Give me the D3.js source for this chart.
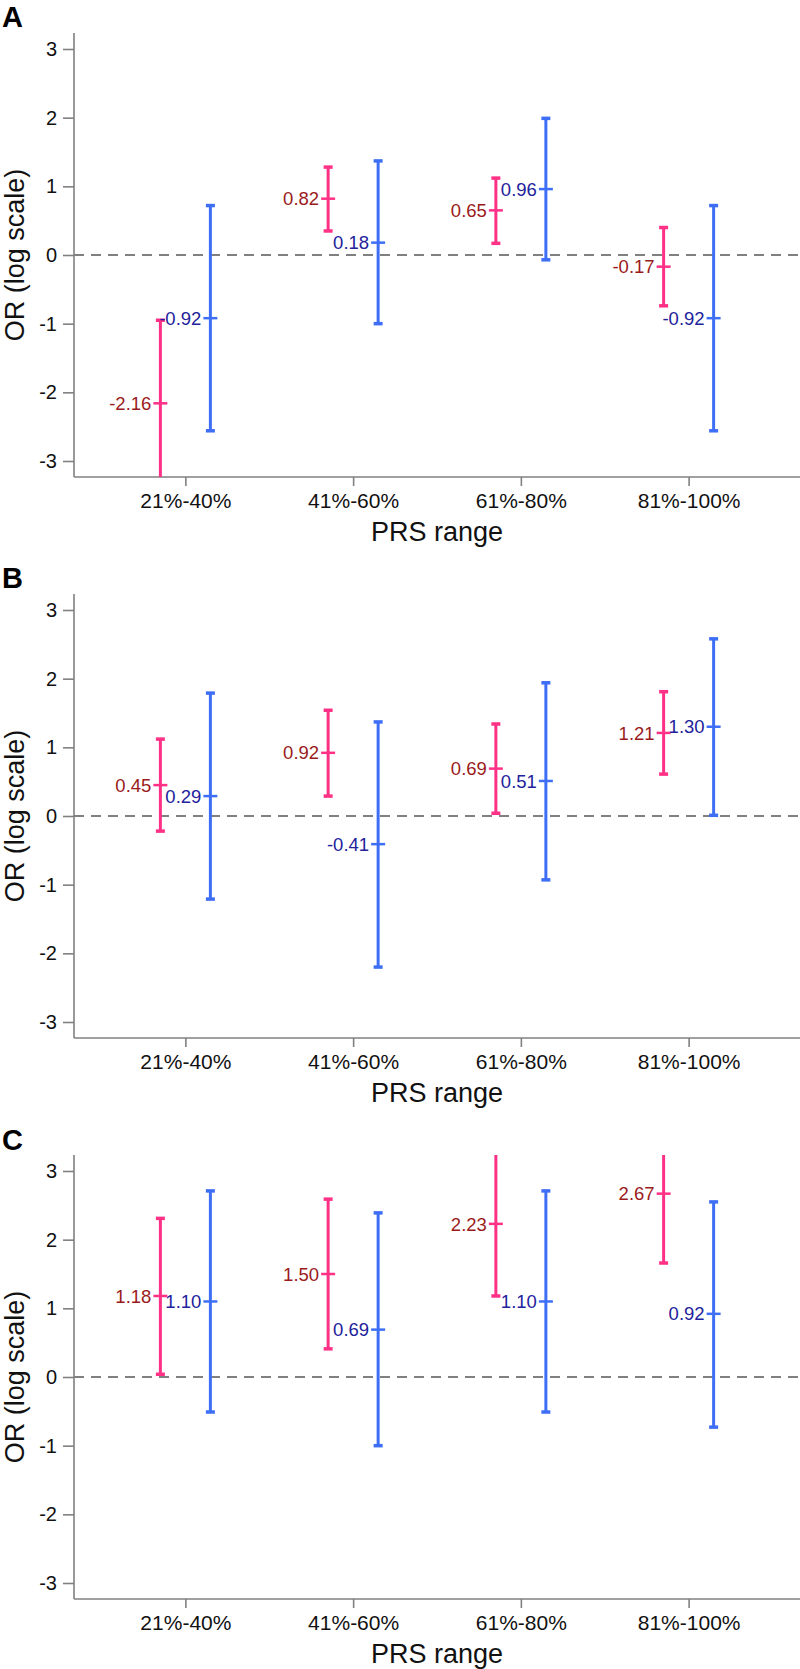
<!DOCTYPE html>
<html>
<head>
<meta charset="utf-8">
<script src="https://cdn.jsdelivr.net/npm/d3@7"></script>
<style>
  html, body { margin: 0; padding: 0; background: #fff; }
  svg { display: block; }
  text { font-family: "Liberation Sans", Arial, sans-serif; }
</style>
</head>
<body>
<div id="chart"></div>
<script>
// ---------------- DATA ----------------
const categories = ["21%-40%", "41%-60%", "61%-80%", "81%-100%"];
const panelLabels = ["A", "B", "C"];
const yTicks = [-3, -2, -1, 0, 1, 2, 3];
const yTitle = "OR (log scale)";
const xTitle = "PRS range";

// Panel A
const aPinkEst = [-2.16, 0.82, 0.65, -0.17];
const aPinkLow = [-3.60, 0.35, 0.17, -0.74];
const aPinkHigh = [-0.95, 1.28, 1.12, 0.40];
const aBlueEst = [-0.92, 0.18, 0.96, -0.92];
const aBlueLow = [-2.56, -1.00, -0.07, -2.56];
const aBlueHigh = [0.72, 1.37, 1.99, 0.72];

// Panel B
const bPinkEst = [0.45, 0.92, 0.69, 1.21];
const bPinkLow = [-0.22, 0.29, 0.04, 0.61];
const bPinkHigh = [1.12, 1.54, 1.34, 1.81];
const bBlueEst = [0.29, -0.41, 0.51, 1.30];
const bBlueLow = [-1.21, -2.20, -0.93, 0.01];
const bBlueHigh = [1.79, 1.37, 1.94, 2.58];

// Panel C
const cPinkEst = [1.18, 1.50, 2.23, 2.67];
const cPinkLow = [0.04, 0.41, 1.18, 1.66];
const cPinkHigh = [2.31, 2.59, 3.60, 3.90];
const cBlueEst = [1.10, 0.69, 1.10, 0.92];
const cBlueLow = [-0.51, -1.00, -0.51, -0.73];
const cBlueHigh = [2.71, 2.39, 2.71, 2.55];

const panels = [
  { label: panelLabels[0], pink: [aPinkEst, aPinkLow, aPinkHigh], blue: [aBlueEst, aBlueLow, aBlueHigh] },
  { label: panelLabels[1], pink: [bPinkEst, bPinkLow, bPinkHigh], blue: [bBlueEst, bBlueLow, bBlueHigh] },
  { label: panelLabels[2], pink: [cPinkEst, cPinkLow, cPinkHigh], blue: [cBlueEst, cBlueLow, cBlueHigh] }
];

// ---------------- LAYOUT ----------------
const W = 800, H = 1669;
const panelStep = 561;
const plotLeft = 74, plotRight = 800, plotTop = 33, plotBottom = 477;
const yDomain = [-3.233, 3.233];

const colors = {
  pink: "#FF3187", blue: "#3E6EF5",
  pinkText: "#9A1B1B", blueText: "#22229C",
  axis: "#808080", text: "#111"
};

const svg = d3.select("#chart").append("svg")
  .attr("width", W).attr("height", H);

const x = d3.scalePoint().domain(categories).range([plotLeft, plotRight]).padding(0.664);
const offset = d3.scalePoint().domain(["pink", "blue"]).range([-25, 25]);
const y = d3.scaleLinear().domain(yDomain).range([plotBottom, plotTop]);

panels.forEach((p, pi) => {
  const g = svg.append("g").attr("transform", `translate(0,${pi * panelStep})`);

  const clipId = "clip" + pi;
  g.append("clipPath").attr("id", clipId)
    .append("rect")
    .attr("x", plotLeft).attr("y", plotTop)
    .attr("width", plotRight - plotLeft).attr("height", plotBottom - plotTop);

  // panel letter
  g.append("text")
    .attr("x", 2).attr("y", 27 + (pi === 2 ? 1 : 0))
    .attr("font-size", 29).attr("font-weight", "bold")
    .attr("fill", "#000")
    .text(p.label);

  // y axis
  const yAxis = g.append("g")
    .attr("transform", `translate(${plotLeft},0)`)
    .call(d3.axisLeft(y).tickValues(yTicks).tickSize(11).tickPadding(6).tickFormat(d3.format("d")));
  yAxis.select(".domain").attr("stroke", colors.axis).attr("stroke-width", 1.6)
    .attr("d", `M0,${plotTop}V${plotBottom}`);
  yAxis.selectAll(".tick line").attr("stroke", colors.axis).attr("stroke-width", 1.6);
  yAxis.selectAll(".tick text").attr("font-size", 20).attr("fill", colors.text)
    .attr("font-family", "Liberation Sans, Arial, sans-serif")
    .text(d => d < 0 ? "-" + Math.abs(d) : d);

  // x axis
  const xAxis = g.append("g")
    .attr("transform", `translate(0,${plotBottom})`)
    .call(d3.axisBottom(x).tickSize(9).tickPadding(7));
  xAxis.select(".domain").attr("stroke", colors.axis).attr("stroke-width", 1.6)
    .attr("d", `M${plotLeft},0H${plotRight}`);
  xAxis.selectAll(".tick line").attr("stroke", colors.axis).attr("stroke-width", 1.6);
  xAxis.selectAll(".tick text").attr("font-size", 21).attr("fill", colors.text)
    .attr("font-family", "Liberation Sans, Arial, sans-serif");

  // titles
  g.append("text")
    .attr("x", (plotLeft + plotRight) / 2).attr("y", 541)
    .attr("text-anchor", "middle").attr("font-size", 27).attr("fill", colors.text)
    .text(xTitle);
  g.append("text")
    .attr("transform", `translate(24,${y(0)}) rotate(-90)`)
    .attr("text-anchor", "middle").attr("font-size", 27).attr("fill", colors.text)
    .text(yTitle);

  // zero reference line
  g.append("line")
    .attr("x1", plotLeft).attr("x2", plotRight)
    .attr("y1", y(0)).attr("y2", y(0))
    .attr("stroke", colors.axis).attr("stroke-width", 2)
    .attr("stroke-dasharray", "10,7");

  const marks = g.append("g").attr("clip-path", `url(#${clipId})`);
  const labels = g.append("g");

  ["pink", "blue"].forEach(s => {
    const [est, low, high] = p[s];
    const rows = categories.map((c, i) => ({ c, est: est[i], low: low[i], high: high[i] }));
    const col = colors[s];
    const cx = d => x(d.c) + offset(s);

    marks.selectAll(null).data(rows).enter().append("line")
      .attr("x1", cx).attr("x2", cx)
      .attr("y1", d => y(d.low)).attr("y2", d => y(d.high))
      .attr("stroke", col).attr("stroke-width", 3);
    ["low", "high"].forEach(k => {
      marks.selectAll(null).data(rows).enter().append("line")
        .attr("x1", d => cx(d) - 4.5).attr("x2", d => cx(d) + 4.5)
        .attr("y1", d => y(d[k])).attr("y2", d => y(d[k]))
        .attr("stroke", col).attr("stroke-width", 3.5);
    });
    marks.selectAll(null).data(rows).enter().append("line")
      .attr("x1", d => cx(d) - 7).attr("x2", d => cx(d) + 7)
      .attr("y1", d => y(d.est)).attr("y2", d => y(d.est))
      .attr("stroke", col).attr("stroke-width", 2.5);

    labels.selectAll(null).data(rows).enter().append("text")
      .attr("x", d => cx(d) - 9).attr("y", d => y(d.est))
      .attr("dy", "0.36em")
      .attr("text-anchor", "end").attr("font-size", 18.5)
      .attr("fill", colors[s + "Text"])
      .text(d => d.est < 0 ? "-" + Math.abs(d.est).toFixed(2) : d.est.toFixed(2));
  });
});
</script>
</body>
</html>
